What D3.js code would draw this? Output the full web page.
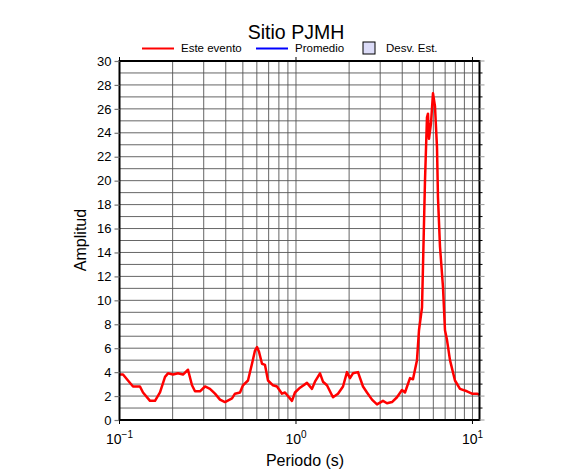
<!DOCTYPE html>
<html><head><meta charset="utf-8">
<script src="https://cdn.jsdelivr.net/npm/d3@7/dist/d3.min.js"></script>
<style>body{margin:0;background:#fff}text{font-family:"Liberation Sans",Arial,sans-serif}</style>
</head><body><svg id="c" width="586" height="475"></svg>
<script>
const periods = [0.1,0.1047,0.1117,0.1193,0.1306,0.1359,0.1489,0.1589,0.1696,0.1811,0.1883,0.2010,0.2145,0.2290,0.2444,0.2575,0.2678,0.2858,0.3051,0.3256,0.3476,0.3710,0.3960,0.4340,0.4513,0.4817,0.5009,0.5346,0.5633,0.5859,0.6013,0.6172,0.6419,0.6675,0.6941,0.7408,0.7805,0.8332,0.8665,0.9491,0.987,1.054,1.154,1.232,1.281,1.368,1.422,1.498,1.620,1.730,1.847,1.945,2.023,2.103,2.245,2.397,2.525,2.696,2.877,3.111,3.278,3.500,3.735,3.987,4.146,4.425,4.602,4.848,4.977,5.176,5.243,5.382,5.524,5.597,5.670,5.820,5.974,6.132,6.295,6.376,6.545,6.807,6.986,7.171,7.457,7.959,8.497,9.307,9.936,10.61,11.0];
const amplitudes = [3.8,3.8,3.3,2.8,2.8,2.3,1.6,1.6,2.3,3.6,3.9,3.8,3.9,3.8,4.2,2.9,2.4,2.4,2.8,2.6,2.2,1.7,1.5,1.8,2.2,2.3,2.9,3.3,4.7,5.8,6.1,5.7,4.7,4.6,3.3,2.9,2.8,2.2,2.3,1.6,2.3,2.7,3.1,2.6,3.2,3.9,3.2,2.9,1.9,2.2,2.8,4.0,3.5,3.9,4.0,2.8,2.3,1.7,1.3,1.6,1.4,1.5,1.9,2.5,2.3,3.5,3.4,5.0,7.5,9.4,12.8,20.0,25.3,25.6,23.5,24.8,27.3,26.2,22.8,18.6,14.5,11.1,7.5,6.7,5.0,3.3,2.6,2.4,2.2,2.2,2.1];
const yTicks = [0,2,4,6,8,10,12,14,16,18,20,22,24,26,28,30];
const xDecades = [0.1,1,10];
const xExponents = ["\u22121","0","1"];
const legendLabels = ["Este evento","Promedio","Desv. Est."];

const svg = d3.select("#c");
const L=119.5,R=479.5,T=61,B=420;
const x = d3.scaleLog().domain([0.1,10.96]).range([L,R]);
const y = d3.scaleLinear().domain([0,30]).range([B,T]);

// grid
const minorX = [];
[0.1,1,10].forEach(d=>{for(let k=1;k<10;k++){const v=d*k; if(v>=0.1&&v<=10.96) minorX.push(v);}});
svg.append("g").selectAll("line").data(minorX).join("line")
  .attr("x1",d=>x(d)).attr("x2",d=>x(d)).attr("y1",T).attr("y2",B)
  .attr("stroke","#555").attr("stroke-width",0.9);
svg.append("g").selectAll("line").data(d3.range(1,30)).join("line")
  .attr("x1",L).attr("x2",R).attr("y1",d=>y(d)).attr("y2",d=>y(d))
  .attr("stroke","#555").attr("stroke-width",0.9);

// curve
svg.append("clipPath").attr("id","cp").append("rect").attr("x",L).attr("y",T).attr("width",R-L).attr("height",B-T);
const line = d3.line().x((d,i)=>x(periods[i])).y(d=>y(d)).curve(d3.curveLinear);
svg.append("path").datum(amplitudes).attr("d",line).attr("fill","none")
  .attr("stroke","#ff0000").attr("stroke-width",2.5).attr("stroke-linejoin","round")
  .attr("clip-path","url(#cp)");

// frame
svg.append("rect").attr("x",L).attr("y",T).attr("width",R-L).attr("height",B-T)
  .attr("fill","none").attr("stroke","#000").attr("stroke-width",2);

// left ticks
const yAxis = d3.axisLeft(y).tickValues(yTicks).tickSize(5).tickPadding(3);
const gy = svg.append("g").attr("transform",`translate(${L},0)`).call(yAxis);
gy.select(".domain").remove();
gy.selectAll(".tick line").attr("stroke","#777").attr("stroke-width",1.2);
gy.selectAll("text").attr("font-size",13).attr("fill","#000").attr("font-family","Liberation Sans, Arial, sans-serif");
// right ticks
svg.append("g").selectAll("line").data(d3.range(0,31)).join("line")
  .attr("x1",R).attr("x2",d=>R+(d%2===0?5:3)).attr("y1",d=>y(d)).attr("y2",d=>y(d))
  .attr("stroke",d=>d%2===0?"#999":"#000").attr("stroke-width",1);
// bottom/top decade ticks
svg.append("g").selectAll("line").data(xDecades).join("line")
  .attr("x1",d=>x(d)).attr("x2",d=>x(d)).attr("y1",B).attr("y2",B+4).attr("stroke","#000");
svg.append("g").selectAll("line").data(xDecades).join("line")
  .attr("x1",d=>x(d)).attr("x2",d=>x(d)).attr("y1",T).attr("y2",T-4).attr("stroke","#000");

// x labels
const xl = svg.append("g").selectAll("text").data(xDecades).join("text")
  .attr("x",d=>x(d)).attr("y",444).attr("text-anchor","middle").attr("font-size",14);
xl.append("tspan").text("10");
xl.append("tspan").attr("dy",-6).attr("font-size",10).text((d,i)=>xExponents[i]);

// axis titles
svg.append("text").attr("x",305).attr("y",466).attr("text-anchor","middle").attr("font-size",16).text("Periodo (s)");
svg.append("text").attr("transform","translate(86,240) rotate(-90)").attr("text-anchor","middle").attr("font-size",16).text("Amplitud");
svg.append("text").attr("x",296).attr("y",39).attr("text-anchor","middle").attr("font-size",19.5).text("Sitio PJMH");

// legend
const lg = svg.append("g");
lg.append("line").attr("x1",142).attr("x2",174).attr("y1",48.5).attr("y2",48.5).attr("stroke","#ff0000").attr("stroke-width",2);
lg.append("text").attr("x",181).attr("y",52).attr("font-size",11.5).text(legendLabels[0]);
lg.append("line").attr("x1",256).attr("x2",288).attr("y1",48.5).attr("y2",48.5).attr("stroke","#0000ff").attr("stroke-width",2);
lg.append("text").attr("x",295).attr("y",52).attr("font-size",11.5).text(legendLabels[1]);
lg.append("rect").attr("x",363).attr("y",42).attr("width",12).attr("height",12).attr("fill","#dcdcf8").attr("stroke","#000").attr("stroke-width",1);
lg.append("text").attr("x",386).attr("y",52).attr("font-size",11.5).text(legendLabels[2]);
</script></body></html>
